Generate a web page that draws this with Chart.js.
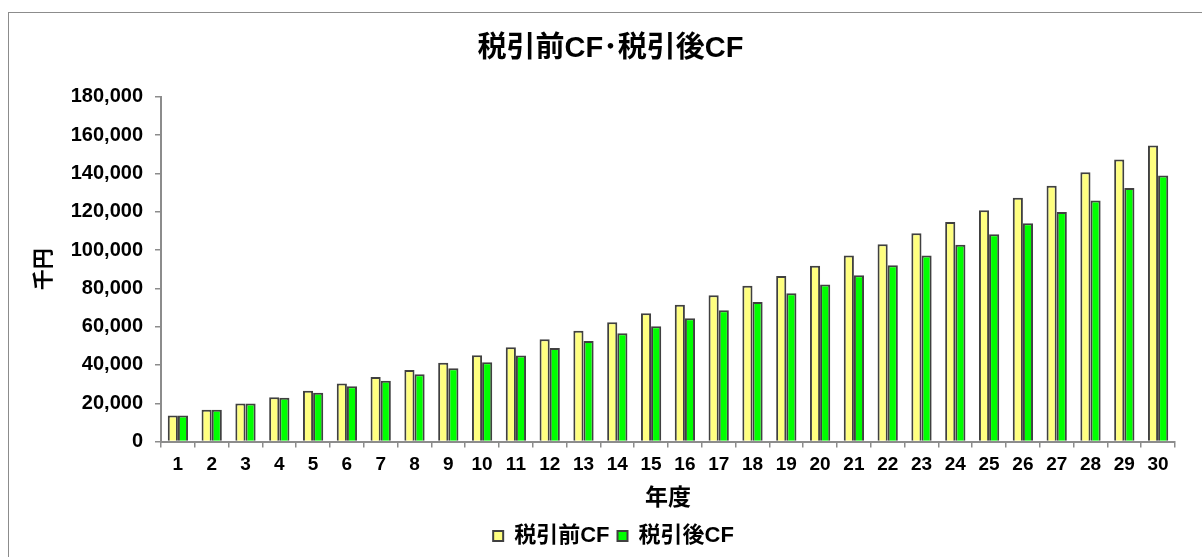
<!DOCTYPE html>
<html lang="ja">
<head>
<meta charset="utf-8">
<title>税引前CF･税引後CF</title>
<script src="https://cdn.jsdelivr.net/npm/chart.js@4.4.1/dist/chart.umd.min.js"></script>
<style>
  html, body { margin: 0; padding: 0; background: #ffffff; overflow: hidden; }
  #wrap { position: relative; width: 1202px; height: 557px; }
  canvas { display: block; }
</style>
</head>
<body>
<div id="wrap"><canvas id="cf" width="1202" height="557"></canvas></div>
<script>
// Year labels (年度)
const years = ['1','2','3','4','5','6','7','8','9','10','11','12','13','14','15',
               '16','17','18','19','20','21','22','23','24','25','26','27','28','29','30'];

// Cash flow before tax, in thousand yen (千円)
const cfBeforeTax = [13600, 16600, 19900, 23200, 26600, 30300, 33700, 37400, 41100, 45100,
                     49300, 53400, 57900, 62300, 67000, 71500, 76400, 81300, 86400, 91800,
                     97200, 103000, 108800, 114700, 120800, 127300, 133600, 140600, 147300, 154600];

// Cash flow after tax, in thousand yen (千円)
const cfAfterTax = [13600, 16600, 19900, 22900, 25500, 28900, 31800, 35200, 38300, 41400,
                    45000, 48800, 52500, 56500, 60200, 64400, 68600, 72900, 77500, 82000,
                    86900, 92000, 97200, 102800, 108200, 114000, 119800, 125900, 132400, 138900];

// Value axis range
const yMin = 0;
const yMax = 180000;
const yStep = 20000;

const FONT = '"Liberation Sans", Arial, "Noto Sans CJK JP", sans-serif';
const AXIS_GRAY = '#8c8c8c';
const BAR_EDGE = '#404040';

// White background and a thin grey frame around the whole chart
const framePlugin = {
  id: 'frame',
  beforeDraw(chart) {
    const ctx = chart.ctx;
    ctx.save();
    ctx.fillStyle = '#ffffff';
    ctx.fillRect(0, 0, chart.width, chart.height);
    ctx.strokeStyle = '#8c8c8c';
    ctx.lineWidth = 1;
    ctx.strokeRect(8.5, 12.5, chart.width + 20, chart.height + 20);
    ctx.restore();
  }
};

// Nudge the title and legend a little to the right of the canvas centre
const blockShift = {
  id: 'blockShift',
  afterLayout(chart) {
    const lg = chart.legend;
    if (lg) { lg.left += 16; lg.right += 16; }
    const tb = chart.titleBlock;
    if (tb) { tb.left += 13; tb.right += 13; }
  }
};

new Chart(document.getElementById('cf'), {
  type: 'bar',
  data: {
    labels: years,
    datasets: [
      {
        label: '税引前CF',
        data: cfBeforeTax,
        backgroundColor: '#ffff80',
        borderColor: BAR_EDGE,
        borderWidth: 2,
        categoryPercentage: 0.6,
        barPercentage: 1.0
      },
      {
        label: '税引後CF',
        data: cfAfterTax,
        backgroundColor: '#00ff00',
        borderColor: BAR_EDGE,
        borderWidth: 2,
        categoryPercentage: 0.6,
        barPercentage: 1.0
      }
    ]
  },
  options: {
    responsive: false,
    animation: false,
    devicePixelRatio: 1,
    layout: { padding: { left: 20, right: 27, top: 0, bottom: 0 } },
    plugins: {
      title: {
        display: true,
        text: '税引前CF･税引後CF',
        color: '#000000',
        font: { family: FONT, size: 29, weight: 'bold' },
        padding: { top: 32, bottom: 30 }
      },
      legend: {
        display: true,
        position: 'bottom',
        labels: {
          color: '#000000',
          font: { family: FONT, size: 22, weight: 'bold' },
          boxWidth: 10,
          boxHeight: 10,
          padding: 8
        }
      },
      tooltip: { enabled: false }
    },
    scales: {
      x: {
        offset: true,
        grid: {
          display: true,
          drawOnChartArea: false,
          drawTicks: true,
          tickLength: 6,
          offset: true,
          color: AXIS_GRAY,
          lineWidth: 1.5
        },
        border: { display: true, color: AXIS_GRAY, width: 2 },
        ticks: {
          color: '#000000',
          font: { family: FONT, size: 19, weight: 'bold' },
          padding: 6,
          maxRotation: 0,
          autoSkip: false
        },
        title: {
          display: true,
          text: '年度',
          color: '#000000',
          font: { family: FONT, size: 23, weight: 'bold' },
          padding: { top: 2, bottom: 5 }
        }
      },
      y: {
        min: yMin,
        max: yMax,
        afterFit(scale) { scale.width = 141; },
        grid: {
          display: true,
          drawOnChartArea: false,
          drawTicks: true,
          tickLength: 6,
          color: AXIS_GRAY,
          lineWidth: 1.5
        },
        border: { display: true, color: AXIS_GRAY, width: 2 },
        ticks: {
          stepSize: yStep,
          color: '#000000',
          font: { family: FONT, size: 20, weight: 'bold' },
          padding: 12,
          callback: (v) => v.toLocaleString('en-US')
        },
        title: {
          display: true,
          text: '千円',
          color: '#000000',
          font: { family: FONT, size: 21, weight: 'bold' },
          padding: { top: 12, bottom: 0 }
        }
      }
    }
  },
  plugins: [framePlugin, blockShift]
});
</script>
</body>
</html>
